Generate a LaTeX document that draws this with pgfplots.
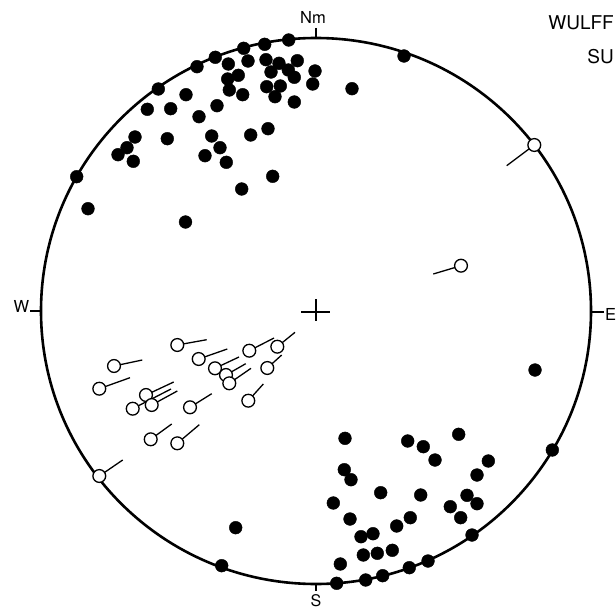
\documentclass[border=0pt]{standalone}
\usepackage{pgfplots}
\pgfplotsset{compat=1.18}
\usepackage{fontspec}
\setmainfont{TeX Gyre Heros}
\begin{document}
\begin{tikzpicture}
\begin{axis}[
  x=1pt, y=1pt, y dir=reverse,
  xmin=0, xmax=616, ymin=0, ymax=610,
  axis lines=none, clip=false,
]
% outer primitive circle
\draw[line width=2.6pt] (axis cs:316,311) ellipse [x radius=275pt, y radius=273pt];
% direction ticks
\draw[line width=1.3pt] (axis cs:316,28) -- (axis cs:316,38);
\draw[line width=1.3pt] (axis cs:316,584) -- (axis cs:316,591);
\draw[line width=1.3pt] (axis cs:30,311) -- (axis cs:41,311);
\draw[line width=1.3pt] (axis cs:591,312) -- (axis cs:604,312);
% centre cross
\draw[line width=2pt] (axis cs:301,312) -- (axis cs:330,312);
\draw[line width=2pt] (axis cs:316,299) -- (axis cs:316,321);
% labels
\node[anchor=base, inner sep=0pt, font=\fontsize{16.5}{18}\selectfont] at (axis cs:313,23.5) {Nm};
\node[anchor=base east, inner sep=0pt, font=\fontsize{16.5}{18}\selectfont] at (axis cs:29.5,312) {W};
\node[anchor=base west, inner sep=0pt, font=\fontsize{16.5}{18}\selectfont] at (axis cs:605,320) {E};
\node[anchor=base, inner sep=0pt, font=\fontsize{16}{18}\selectfont] at (axis cs:316,606) {S};
\node[anchor=base east, inner sep=0pt, font=\fontsize{19}{22}\selectfont] at (axis cs:614,29.3) {WULFF};
\node[anchor=base east, inner sep=0pt, font=\fontsize{19}{22}\selectfont] at (axis cs:614,63.3) {SU};
% filled poles
\addplot[only marks, mark=*, mark size=6.4pt, black] coordinates {
(288.7,40) (264.7,44.3) (243.7,48.3) (215.3,57.3) (197,66.7) (158.3,89) (76.7,176.7) (404,56)
(228.3,64) (248,61) (266,59.7) (279,63.3) (297.3,60.7) (271,72) (288.3,70) (294.3,77.3)
(315,71) (312.7,84) (238.3,75.3) (227.7,79) (229.3,90) (242.7,94.7) (266.7,86.7) (280.3,86)
(275,96.7) (294.3,102) (352,88.7) (186,94.7) (217,105.7) (147.3,109.3) (170.7,108.7) (199,116.7)
(135,137) (127,147.7) (118,154.7) (133.3,161.3) (167.3,138.7) (211.7,136) (220,147.7) (205,155.7)
(226.3,162.3) (250.7,135) (268,128.7) (272.7,176.3) (241.7,189) (88,208.7) (185.5,222)
(336.7,583.3) (365.7,580) (382.7,575.7) (409.3,567.7) (428,561) (472,535) (552.3,450) (221.7,565.7)
(345,438.3) (407.7,441) (423.3,446.7) (458.7,434.3) (435,460) (488.3,461) (477,475) (344.3,469.7)
(351,479.7) (380.7,492.7) (420.7,495) (333.3,503) (467,495.3) (477,503.7) (450.3,506.7) (460.7,517.7)
(350,519) (410.3,517.7) (396.7,526) (361,536.7) (373,533.7) (363.3,555) (377.3,553.3) (392.3,550.3)
(340.3,564) (535,370) (235.7,527.7)
};
% stems of lineations
\addplot[black, line width=1.3pt, unbounded coords=jump] coordinates {
(114,366) (142.3,360) (0,nan)
(99.3,388.7) (130,377.7) (0,nan)
(177.3,345) (206.7,339.7) (0,nan)
(198.7,359) (227.3,349) (0,nan)
(215,368.3) (239,357) (0,nan)
(226,375) (245.7,363.7) (0,nan)
(229.3,383.3) (251,368.3) (0,nan)
(249.3,350.7) (274,338) (0,nan)
(277.3,346.7) (295,332.3) (0,nan)
(267.3,368) (281.7,355) (0,nan)
(146,395) (173.7,382) (0,nan)
(132.7,408.7) (171,389) (0,nan)
(151.7,405) (177.3,391) (0,nan)
(190,407.3) (211.7,393.7) (0,nan)
(248.3,400.7) (263.3,384) (0,nan)
(150.7,439.3) (171.7,424) (0,nan)
(177.3,443.3) (199.3,424.7) (0,nan)
(534.3,145) (506.7,165.7) (0,nan)
(461,265.7) (433.3,274) (0,nan)
(99.3,476) (122.7,460)
};
% open circles
\addplot[only marks, mark=*, mark size=6.4pt, mark options={fill=white, draw=black, line width=1.3pt}] coordinates {
(114,366) (99.3,388.7) (177.3,345) (198.7,359) (215,368.3) (226,375) (229.3,383.3) (249.3,350.7)
(277.3,346.7) (267.3,368) (146,395) (132.7,408.7) (151.7,405) (190,407.3) (248.3,400.7)
(150.7,439.3) (177.3,443.3) (534.3,145) (461,265.7) (99.3,476)
};
\coordinate (sw) at (axis cs:0,610);
\coordinate (ne) at (axis cs:616,0);
\end{axis}
\pgfresetboundingbox
\path[use as bounding box] (sw) rectangle (ne);
\end{tikzpicture}
\end{document}
